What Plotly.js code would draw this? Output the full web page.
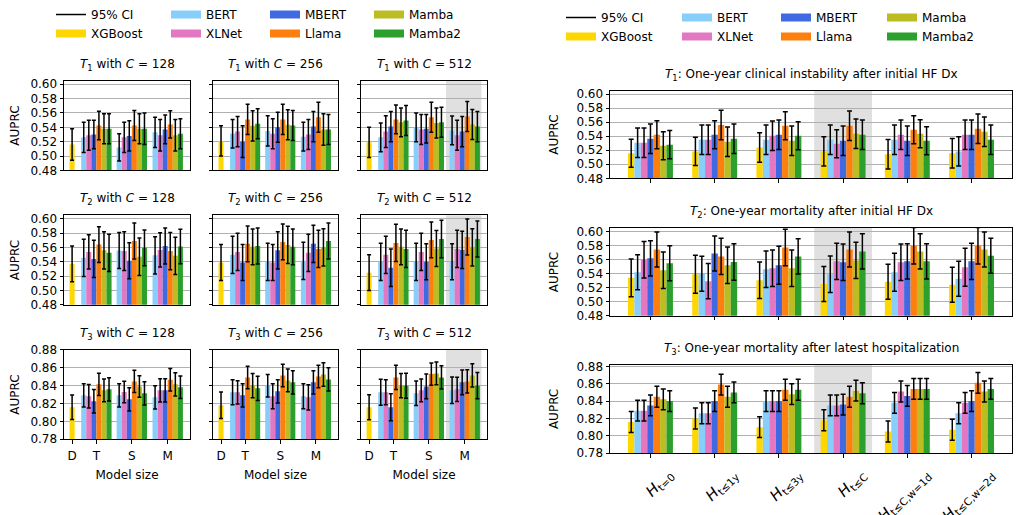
<!DOCTYPE html>
<html><head><meta charset="utf-8">
<script src="https://cdn.plot.ly/plotly-3.0.1.min.js"></script>
<style>html,body{margin:0;padding:0;background:#fff}</style>
</head><body><div id="chart" style="width:1023px;height:515px"></div>
<script>
// ---------- data ----------
const models = ['XGBoost','BERT','XLNet','MBERT','Llama','Mamba','Mamba2'];
const modelColors = ['#FFD700','#87CEFA','#E377C2','#4169E1','#FF7F0E','#BCBD22','#2CA02C'];
const sizeLabels = ['D','T','S','M'];
const contextSizes = [128,256,512];
const taskTitles = ['One-year clinical instability after initial HF Dx','One-year mortality after initial HF Dx','One-year mortality after latest hospitalization'];
const historyLabels = ['<i>H</i><sub>t=0</sub>','<i>H</i><sub>t≤1y</sub>','<i>H</i><sub>t≤3y</sub>','<i>H</i><sub>t≤C</sub>','<i>H</i><sub>t≤C,w=1d</sub>','<i>H</i><sub>t≤C,w=2d</sub>'];

// Left grid: XGBoost (size D) value & CI half-width; rows BERT..Mamba2, cols T,S,M
const T1_C128_xgb = [0.516, 0.022];
const T1_C128_vals = [[0.526,0.512,0.533],[0.529,0.526,0.529],[0.530,0.528,0.537],[0.5425,0.5425,0.544],[0.538,0.538,0.529],[0.538,0.538,0.531]];
const T1_C128_errs = [[0.021,0.019,0.021],[0.021,0.021,0.022],[0.020,0.021,0.020],[0.020,0.021,0.019],[0.021,0.021,0.022],[0.021,0.022,0.021]];
const T1_C256_xgb = [0.521, 0.021];
const T1_C256_vals = [[0.531,0.535,0.527],[0.534,0.531,0.530],[0.520,0.540,0.541],[0.551,0.551,0.554],[0.542,0.5435,0.537],[0.545,0.5425,0.537]];
const T1_C256_errs = [[0.020,0.021,0.020],[0.021,0.021,0.021],[0.022,0.021,0.021],[0.021,0.021,0.021],[0.021,0.021,0.022],[0.021,0.021,0.021]];
const T1_C512_xgb = [0.519, 0.021];
const T1_C512_vals = [[0.526,0.540,0.5356],[0.534,0.537,0.529],[0.541,0.538,0.534],[0.551,0.554,0.555],[0.547,0.546,0.544],[0.5495,0.547,0.541]];
const T1_C512_errs = [[0.020,0.020,0.020],[0.022,0.021,0.021],[0.021,0.020,0.021],[0.020,0.021,0.021],[0.020,0.021,0.021],[0.021,0.021,0.021]];

const T2_C128_xgb = [0.537, 0.025];
const T2_C128_vals = [[0.5455,0.5557,0.549],[0.5538,0.555,0.5566],[0.544,0.5414,0.562],[0.564,0.569,0.555],[0.556,0.547,0.5483],[0.5525,0.5594,0.5612]];
const T2_C128_errs = [[0.026,0.025,0.026],[0.024,0.027,0.024],[0.026,0.025,0.025],[0.025,0.025,0.026],[0.026,0.026,0.026],[0.026,0.025,0.024]];
const T2_C256_xgb = [0.539, 0.025];
const T2_C256_vals = [[0.5497,0.540,0.5414],[0.5538,0.539,0.5525],[0.539,0.556,0.565],[0.565,0.5677,0.558],[0.5608,0.5635,0.560],[0.562,0.5608,0.569]];
const T2_C256_errs = [[0.026,0.026,0.026],[0.026,0.025,0.026],[0.025,0.026,0.026],[0.025,0.025,0.026],[0.025,0.026,0.026],[0.025,0.025,0.025]];
const T2_C512_xgb = [0.5248, 0.025];
const T2_C512_vals = [[0.540,0.540,0.540],[0.5497,0.5538,0.558],[0.5317,0.540,0.5566],[0.5663,0.5705,0.5746],[0.5608,0.5585,0.560],[0.558,0.5718,0.5718]];
const T2_C512_errs = [[0.026,0.026,0.025],[0.026,0.026,0.026],[0.026,0.025,0.026],[0.026,0.025,0.025],[0.025,0.025,0.026],[0.026,0.026,0.025]];

const T3_C128_xgb = [0.8158, 0.0137];
const T3_C128_vals = [[0.829,0.829,0.8268],[0.828,0.8328,0.8346],[0.8224,0.8246,0.8346],[0.8413,0.8446,0.8464],[0.8346,0.839,0.8413],[0.8357,0.8313,0.838]];
const T3_C128_errs = [[0.013,0.013,0.013],[0.013,0.012,0.013],[0.013,0.013,0.013],[0.0125,0.0125,0.0125],[0.0127,0.012,0.013],[0.013,0.013,0.0125]];
const T3_C256_xgb = [0.818, 0.0148];
const T3_C256_vals = [[0.8324,0.8398,0.828],[0.8324,0.828,0.8268],[0.829,0.8335,0.8435],[0.849,0.8512,0.8501],[0.8398,0.8457,0.8523],[0.8368,0.8435,0.8468]];
const T3_C256_errs = [[0.014,0.0125,0.014],[0.013,0.014,0.014],[0.013,0.013,0.013],[0.0125,0.0125,0.0125],[0.0135,0.0127,0.013],[0.0135,0.013,0.013]];
const T3_C512_xgb = [0.8158, 0.014];
const T3_C512_vals = [[0.8324,0.8313,0.8346],[0.8324,0.8346,0.8357],[0.8158,0.839,0.8435],[0.849,0.8527,0.8446],[0.8398,0.8534,0.8512],[0.8398,0.849,0.8398]];
const T3_C512_errs = [[0.0145,0.0137,0.0148],[0.014,0.0127,0.0135],[0.015,0.0137,0.0137],[0.0135,0.0125,0.013],[0.0135,0.0127,0.013],[0.014,0.013,0.0146]];

// Right column: rows = models (XGBoost..Mamba2), cols = history settings
const R_T1_vals = [[0.5156,0.5184,0.524,0.5184,0.5142,0.5156],[0.5308,0.535,0.535,0.535,0.535,0.5184],[0.5308,0.535,0.5407,0.5294,0.542,0.542],[0.5365,0.542,0.542,0.5336,0.5336,0.542],[0.542,0.5559,0.555,0.555,0.5493,0.5507],[0.5265,0.5322,0.5336,0.5436,0.5436,0.5464],[0.528,0.5365,0.5407,0.542,0.5336,0.535]];
const R_T1_errs = [[0.020,0.020,0.021,0.021,0.021,0.021],[0.021,0.021,0.021,0.021,0.021,0.021],[0.021,0.021,0.021,0.020,0.021,0.021],[0.021,0.020,0.021,0.021,0.021,0.021],[0.020,0.021,0.020,0.021,0.020,0.021],[0.020,0.021,0.021,0.021,0.020,0.021],[0.020,0.021,0.020,0.021,0.020,0.021]];
const R_T2_vals = [[0.5341,0.5393,0.5308,0.5252,0.5285,0.5242],[0.5421,0.5398,0.5464,0.5393,0.5421,0.5327],[0.560,0.5294,0.5478,0.5576,0.5562,0.5492],[0.5619,0.5689,0.552,0.5562,0.5576,0.5576],[0.5746,0.5647,0.5774,0.5746,0.5798,0.5798],[0.5449,0.552,0.5478,0.559,0.5718,0.5746],[0.5548,0.5567,0.5647,0.5718,0.5576,0.5656]];
const R_T2_errs = [[0.027,0.027,0.026,0.025,0.025,0.025],[0.025,0.025,0.026,0.026,0.027,0.025],[0.026,0.025,0.026,0.026,0.026,0.027],[0.025,0.025,0.027,0.026,0.025,0.026],[0.025,0.026,0.026,0.025,0.026,0.026],[0.026,0.026,0.026,0.026,0.025,0.025],[0.025,0.026,0.025,0.025,0.025,0.025]];
const R_T3_vals = [[0.816,0.820,0.810,0.818,0.805,0.807],[0.829,0.826,0.840,0.835,0.838,0.826],[0.829,0.826,0.840,0.835,0.851,0.838],[0.835,0.840,0.840,0.836,0.846,0.840],[0.845,0.859,0.853,0.845,0.854,0.861],[0.842,0.845,0.848,0.852,0.854,0.851],[0.840,0.850,0.853,0.849,0.854,0.854]];
const R_T3_errs = [[0.012,0.012,0.012,0.012,0.012,0.012],[0.012,0.012,0.012,0.012,0.012,0.012],[0.012,0.012,0.012,0.012,0.012,0.012],[0.012,0.012,0.012,0.012,0.012,0.012],[0.012,0.012,0.012,0.012,0.012,0.012],[0.012,0.012,0.012,0.012,0.012,0.012],[0.012,0.012,0.012,0.012,0.012,0.012]];

const legendColumns = [['95% CI','XGBoost'],['BERT','XLNet'],['MBERT','Llama'],['Mamba','Mamba2']];

// ---------- layout helpers ----------
const W = 1023, H = 515;
const fx = p => p / W, fy = p => 1 - p / H;
const leftCols = [[64,190],[213,338],[361,487]];
const leftRows = [[79,169],[214,304],[349,439]];
const rightCol = [610,1012];
const rightRows = [[89,177],[227,315],[364,453]];
const sizePos = [0, 4.8, 11.8, 18.9];
const groupPos = [0,1,2,3,4,5];
const FONT = 'DejaVu Sans, Liberation Sans, sans-serif';

const leftData = [
  [[T1_C128_xgb,T1_C128_vals,T1_C128_errs],[T1_C256_xgb,T1_C256_vals,T1_C256_errs],[T1_C512_xgb,T1_C512_vals,T1_C512_errs]],
  [[T2_C128_xgb,T2_C128_vals,T2_C128_errs],[T2_C256_xgb,T2_C256_vals,T2_C256_errs],[T2_C512_xgb,T2_C512_vals,T2_C512_errs]],
  [[T3_C128_xgb,T3_C128_vals,T3_C128_errs],[T3_C256_xgb,T3_C256_vals,T3_C256_errs],[T3_C512_xgb,T3_C512_vals,T3_C512_errs]]
];
const rightData = [[R_T1_vals,R_T1_errs],[R_T2_vals,R_T2_errs],[R_T3_vals,R_T3_errs]];

const traces = [];
const layout = {
  width: W, height: H, margin: {l:0,r:0,t:0,b:0},
  paper_bgcolor: '#fff', plot_bgcolor: 'rgba(0,0,0,0)',
  font: {family: FONT, size: 12, color: '#000'},
  barmode: 'overlay', showlegend: true,
  shapes: [], annotations: []
};
const axName = (p, k) => p + (k === 1 ? '' : k);
const errY = (arr, w) => ({type:'data', array: arr, visible: true, color: '#000', thickness: 1.5, width: w});

function makeAxes(k, xd, yd, yr, opts) {
  layout[axName('xaxis',k)] = Object.assign({
    domain: [fx(xd[0]), fx(xd[1])], anchor: axName('y',k),
    showline: true, mirror: true, linecolor: '#000', linewidth: 1,
    showgrid: false, zeroline: false, fixedrange: true,
    tickfont: {size: 12, color: '#000'}, ticklen: 3.5, tickwidth: 1, tickcolor: '#000'
  }, opts.x);
  const ya = {
    domain: [fy(yd[1]), fy(yd[0])], anchor: axName('x',k), range: yr,
    tickmode: 'linear', tick0: yr[0] < 0.7 ? 0.48 : 0.78, dtick: 0.02, tickformat: '.2f',
    showline: true, mirror: true, linecolor: '#000', linewidth: 1,
    showgrid: true, gridcolor: '#b0b0b0', gridwidth: 1, zeroline: false, fixedrange: true,
    ticks: 'outside', ticklen: 3.5, tickwidth: 1, tickcolor: '#000',
    tickfont: {size: 12, color: '#000'},
    showticklabels: opts.ylabels
  };
  if (opts.ylabels) ya.title = {text: 'AUPRC', font: {size: 12, color: '#000'}, standoff: opts.ystandoff};
  layout[axName('yaxis',k)] = ya;
}

// ---------- left grid ----------
for (let r = 0; r < 3; r++) {
  for (let c = 0; c < 3; c++) {
    const k = r * 3 + c + 1;
    const [xgb, vals, errs] = leftData[r][c];
    const xa = axName('x',k), ya = axName('y',k);
    traces.push({type:'bar', x:[sizePos[0]], y:[xgb[0]], width:1, xaxis:xa, yaxis:ya, name:models[0],
      marker:{color:modelColors[0], line:{width:0}}, error_y: errY([xgb[1]], 2), showlegend:false, hoverinfo:'skip'});
    for (let m = 1; m < 7; m++) {
      traces.push({type:'bar', x:[1,2,3].map(g => sizePos[g] + (m - 3.5)), y: vals[m-1], width: 1,
        xaxis:xa, yaxis:ya, name:models[m], marker:{color:modelColors[m], line:{width:0}},
        error_y: errY(errs[m-1], 2), showlegend:false, hoverinfo:'skip'});
    }
    const yr = r < 2 ? [0.48, 0.605] : [0.78, 0.88];
    const bottom = r === 2;
    const xopts = {range: [-1.6, 23.3], tickmode: 'array', tickvals: sizePos, ticktext: sizeLabels,
          ticks: bottom ? 'outside' : '', showticklabels: bottom};
    if (bottom) {
      xopts.ticklabelstandoff = 2;
      xopts.title = {text: 'Model size', font:{size:12,color:'#000'}, standoff: 8};
    }
    makeAxes(k, leftCols[c], leftRows[r], yr, {ylabels: c === 0, ystandoff: 8, x: xopts});
    if (c === 2) {
      layout.shapes.push({type:'rect', xref: xa, yref: ya + ' domain', x0: sizePos[3] - 3.7, x1: sizePos[3] + 3.3, y0: 0, y1: 1,
        fillcolor: '#e0e0e0', line: {width: 0}, layer: 'below'});
    }
    layout.annotations.push({xref:'paper', yref:'paper', x: fx((leftCols[c][0]+leftCols[c][1])/2), y: fy(leftRows[r][0]),
      yanchor:'bottom', xanchor:'center', yshift: 6, showarrow:false,
      text: '<i>T</i><sub>' + (r+1) + '</sub> with <i>C</i> = ' + contextSizes[c], font:{size:12,color:'#000'}});
  }
}

// ---------- right column ----------
for (let r = 0; r < 3; r++) {
  const k = 10 + r;
  const [vals, errs] = rightData[r];
  const xa = axName('x',k), ya = axName('y',k);
  for (let m = 0; m < 7; m++) {
    traces.push({type:'bar', x: groupPos.map(g => g + (m - 3) * 0.1), y: vals[m], width: 0.1,
      xaxis:xa, yaxis:ya, name:models[m], marker:{color:modelColors[m], line:{width:0}},
      error_y: errY(errs[m], 2.5), showlegend:false, hoverinfo:'skip'});
  }
  const yr = r < 2 ? [0.48, 0.605] : [0.78, 0.882];
  const bottom = r === 2;
  const xopts = {range: [-0.63, 5.63], tickmode:'array', tickvals: groupPos, ticktext: historyLabels,
        ticks:'outside', showticklabels: bottom};
  if (bottom) {
    xopts.tickangle = -45;
    xopts.tickfont = {size: 15, color: '#000'};
    xopts.ticklabelshift = 18;
    xopts.ticklabelstandoff = 2;
  }
  makeAxes(k, rightCol, rightRows[r], yr, {ylabels: true, ystandoff: 15, x: xopts});
  layout.shapes.push({type:'rect', xref: xa, yref: ya + ' domain', x0: 2.55, x1: 3.45, y0: 0, y1: 1,
    fillcolor: '#e0e0e0', line: {width: 0}, layer: 'below'});
  layout.annotations.push({xref:'paper', yref:'paper', x: fx((rightCol[0]+rightCol[1])/2), y: fy(rightRows[r][0]),
    yanchor:'bottom', xanchor:'center', yshift: 6, showarrow:false,
    text: '<i>T</i><sub>' + (r+1) + '</sub>: ' + taskTitles[r], font:{size:12,color:'#000'}});
}

// ---------- legends (one column = one legend) ----------
const legendTextX = [[91,206,305,409],[601,717,816,922]];
const legendTopY = [-2, 1];
let li = 0;
for (let s = 0; s < 2; s++) {
  for (let c = 0; c < 4; c++) {
    li++;
    const lname = li === 1 ? 'legend' : 'legend' + li;
    layout[lname] = {x: fx(legendTextX[s][c] - 40), y: fy(legendTopY[s]), xanchor:'left', yanchor:'top',
      orientation:'v', bgcolor:'rgba(0,0,0,0)', borderwidth:0, font:{size:12,color:'#000'}, tracegroupgap:0};
    legendColumns[c].forEach(nm => {
      const isCI = nm === '95% CI';
      const col = isCI ? '#000' : modelColors[models.indexOf(nm)];
      traces.push({type:'scatter', mode:'lines', x:[null], y:[null], name: nm, legend: lname,
        line:{color: col, width: isCI ? 1.5 : 8}, showlegend: true, hoverinfo:'skip', xaxis:'x', yaxis:'y'});
    });
  }
}

Plotly.newPlot('chart', traces, layout, {displayModeBar:false, staticPlot:true});
</script>
</body></html>
